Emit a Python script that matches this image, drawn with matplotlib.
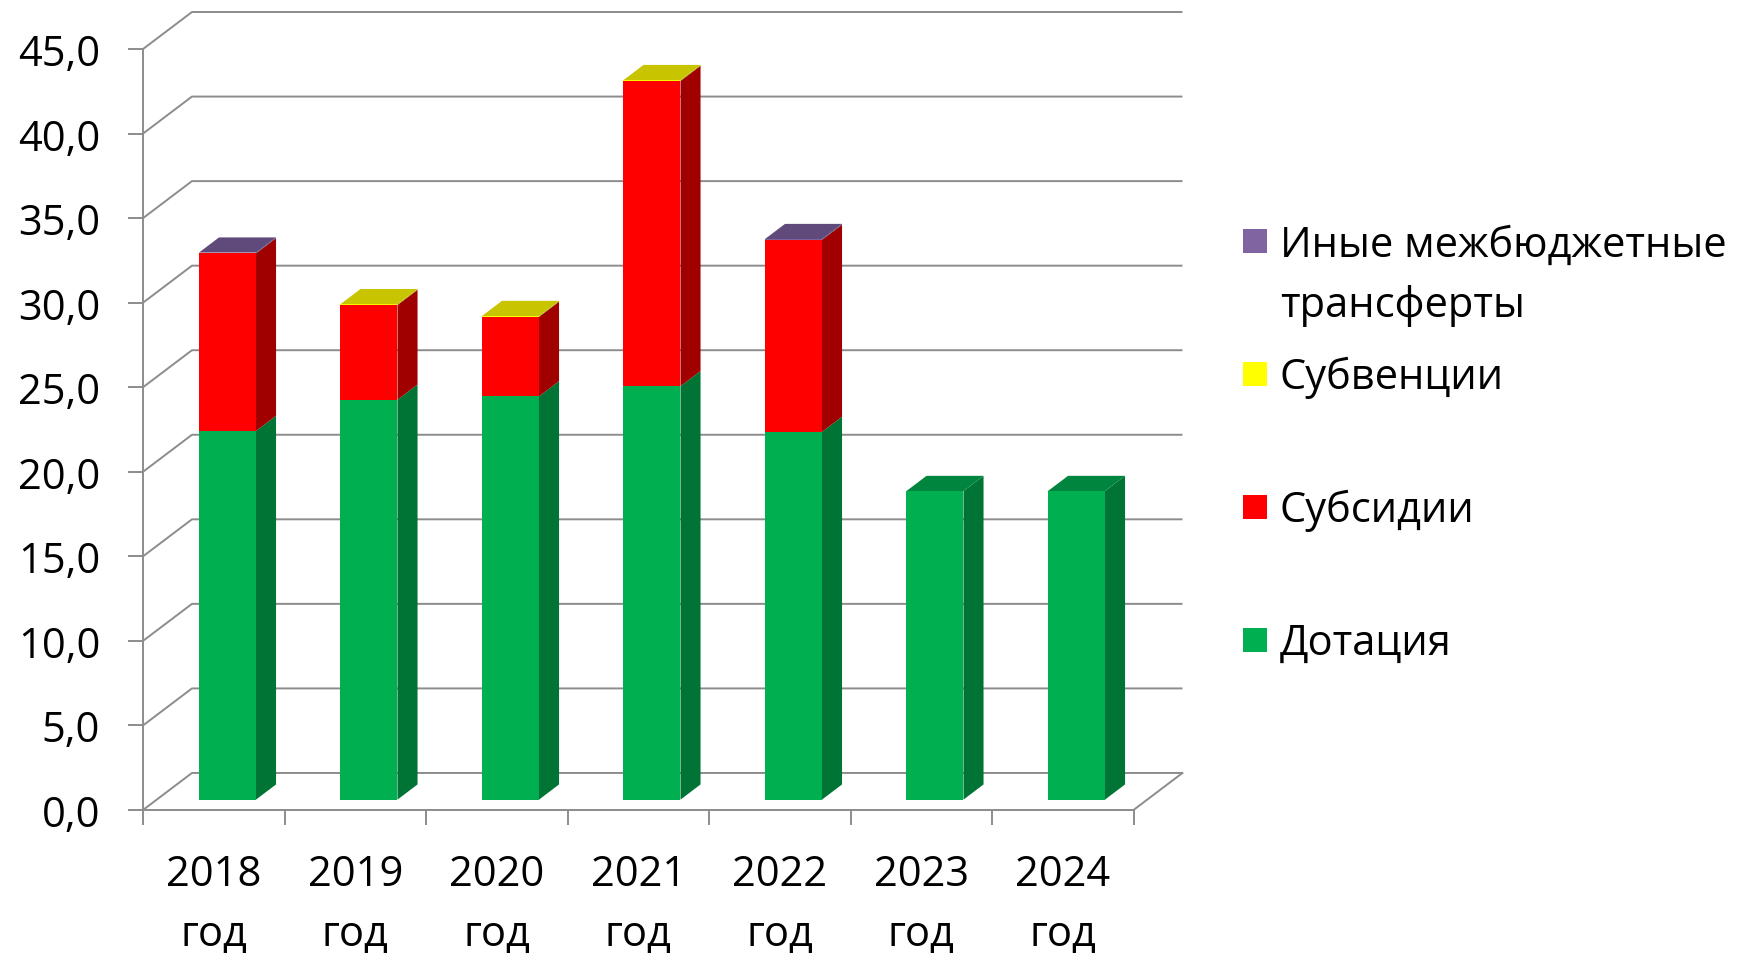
import matplotlib
matplotlib.use("Agg")
import matplotlib.pyplot as plt
from matplotlib.patches import Polygon, Rectangle

plt.rcParams['font.family'] = ['Open Sans', 'DejaVu Sans']

# Data (млн руб.)
years = ['2018', '2019', '2020', '2021', '2022', '2023', '2024']
dotation = [21.8, 23.65, 23.85, 24.45, 21.75, 18.25, 18.25]
subsidies = [10.5, 5.6, 4.7, 18.05, 11.35, 0.0, 0.0]
subventions = [0.0, 0.05, 0.05, 0.05, 0.0, 0.0, 0.0]
other = [0.05, 0.0, 0.0, 0.0, 0.05, 0.0, 0.0]

series_names = ['Дотация', 'Субсидии', 'Субвенции', 'Иные межбюджетные\nтрансферты']
series_values = [dotation, subsidies, subventions, other]
# front, side, top colours for each series
front_cols = ['#00B050', '#FF0000', '#FFFF00', '#8064A2']
side_cols = ['#007434', '#A00000', '#A0A000', '#4F3D66']
top_cols = ['#00853E', '#C80000', '#C8C400', '#604A7B']

y_ticks = list(range(0, 50, 5))

# pseudo-3D geometry (data units)
DX, DY = 0.346, 2.19      # full depth of the wall/floor
F0, DEPTH = 0.28, 0.41    # bar front position and bar depth (fractions of full depth)
W = 0.403                 # bar width

GRID = '#8c8c8c'
FS = 30

fig = plt.figure(figsize=(17.4, 9.54), dpi=100)
W_PX, H_PX = 1740, 954
n = len(years)
x_left, x_right = -0.5, n - 0.5 + DX
y_top = 45 + DY
ax = fig.add_axes([143 / W_PX, 143 / H_PX, (7 + DX) * 141.5 / W_PX, y_top * 16.91 / H_PX])
ax.set_xlim(x_left, x_right)
ax.set_ylim(0, y_top)

# back wall gridlines + left wall diagonals
for v in y_ticks:
    ax.plot([-0.5, -0.5 + DX, n - 0.5 + DX], [v, v + DY, v + DY],
            color=GRID, lw=1.4, zorder=0, clip_on=False, solid_capstyle='butt')
# right edge of the floor
ax.plot([n - 0.5, n - 0.5 + DX], [0, DY], color=GRID, lw=1.4, zorder=0, clip_on=False)

# bars
for i in range(n):
    bottom = 0.0
    top_k = max(k for k in range(len(series_values)) if series_values[k][i] > 0)
    for k, vals in enumerate(series_values):
        h = vals[i]
        if h <= 0:
            continue
        x0 = i - W / 2 + F0 * DX
        x1 = x0 + W
        y0 = bottom + F0 * DY
        y1 = y0 + h
        ddx, ddy = DEPTH * DX, DEPTH * DY
        ax.bar(x0 + W / 2, h, width=W, bottom=y0, color=front_cols[k],
               linewidth=0, zorder=3)
        ax.add_patch(Polygon([(x1, y0), (x1 + ddx, y0 + ddy), (x1 + ddx, y1 + ddy), (x1, y1)],
                             closed=True, facecolor=side_cols[k], edgecolor='none', zorder=3))
        if k == top_k:
            ax.add_patch(Polygon([(x0, y1), (x1, y1), (x1 + ddx, y1 + ddy), (x0 + ddx, y1 + ddy)],
                                 closed=True, facecolor=top_cols[k], edgecolor='none', zorder=3))
        bottom += h

# axes styling
for s in ['top', 'right']:
    ax.spines[s].set_visible(False)
ax.spines['left'].set_bounds(0, 45)
ax.spines['bottom'].set_bounds(-0.5, n - 0.5)
for s in ['left', 'bottom']:
    ax.spines[s].set_color(GRID)
    ax.spines[s].set_linewidth(1.4)
    ax.spines[s].set_zorder(1)

ax.set_yticks(y_ticks)
ax.set_yticklabels([f'{v:.1f}'.replace('.', ',') for v in y_ticks], fontsize=FS)
ax.tick_params(axis='y', direction='out', length=10.8, width=1.4, color=GRID, pad=20)

ax.set_xticks([i - 0.5 for i in range(n + 1)])
ax.set_xticklabels([])
ax.set_xticks(range(n), minor=True)
ax.set_xticklabels([f'{y}\nгод' for y in years], minor=True, fontsize=FS, linespacing=1.55)
ax.tick_params(axis='x', which='major', direction='out', length=10.8, width=1.4, color=GRID)
ax.tick_params(axis='x', which='minor', length=0, pad=31)

# legend (drawn by hand to mimic the Excel layout)
leg_order = [3, 2, 1, 0]
for j, k in enumerate(leg_order):
    yc = 242 + 133 * j
    fig.add_artist(Rectangle((1243 / W_PX, 1 - (yc + 12) / H_PX), 24 / W_PX, 24 / H_PX,
                             transform=fig.transFigure, facecolor=front_cols[k], edgecolor='none'))
    label = series_names[k]
    if '\n' in label:
        fig.text(1280 / W_PX, 1 - (yc - 17) / H_PX, label, fontsize=FS, va='top', ha='left',
                 linespacing=1.55)
    else:
        fig.text(1280 / W_PX, 1 - (yc + 3) / H_PX, label, fontsize=FS, va='center', ha='left')

fig.savefig('out.png', dpi=100)
